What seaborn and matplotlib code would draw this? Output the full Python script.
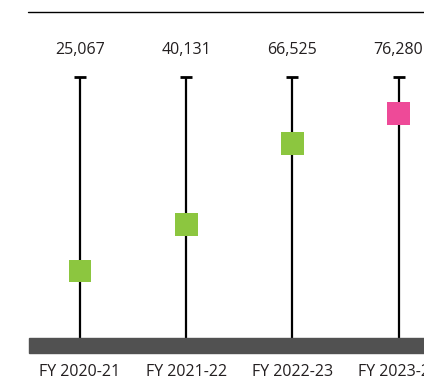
import matplotlib
matplotlib.use("Agg")
import matplotlib.pyplot as plt
import matplotlib.transforms as mtransforms
from matplotlib.patches import Rectangle
from matplotlib.lines import Line2D
import pandas as pd
import seaborn as sns

# Data
years = ["FY 2020-21", "FY 2021-22", "FY 2022-23", "FY 2023-24"]
values = [25067, 40131, 66525, 76280]
value_labels = ["25,067", "40,131", "66,525", "76,280"]
highlight = [False, False, False, True]
scale_top = 88300  # height of each stem

GREEN = "#8CC63F"
PINK = "#EE4A98"
BAR = "#515151"

sns.set_theme(style="white")
plt.rcParams["font.family"] = ["Open Sans", "DejaVu Sans"]

W, H = 424, 383
fig = plt.figure(figsize=(W / 100, H / 100), dpi=100)
ax = fig.add_axes([0, 0, 1, 1])
ax.set_axis_off()

# Axis ranges: category spacing ~106 px, value scale ~0.00307 px/unit
ax.set_xlim(-0.7535, 3.240)
ax.set_ylim(-11400, 113350)

df = pd.DataFrame({"year": years, "x": range(len(years)), "value": values,
                   "latest": highlight})

# Stems with top caps
ax.vlines(df["x"], 0, scale_top, color="black", lw=1.6, zorder=2)
ax.plot(df["x"], [scale_top] * len(df), ls="none", marker="_",
        ms=9, mew=2.0, color="black", zorder=2)

# Value markers
sns.scatterplot(data=df, x="x", y="value", hue="latest",
                palette={False: GREEN, True: PINK}, marker="s", s=272,
                linewidth=0, legend=False, ax=ax, zorder=3)

# Baseline bar and top rule (figure pixel coordinates)
fig.patches.append(Rectangle((29 / W, 1 - 353 / H), 1, 15 / H,
                             transform=fig.transFigure, color=BAR, zorder=4))
fig.lines.append(Line2D([28 / W, 1], [1 - 12 / H] * 2,
                        transform=fig.transFigure, color="black", lw=1.0))

trans = mtransforms.blended_transform_factory(ax.transData, fig.transFigure)
for i, (yr, lab) in enumerate(zip(years, value_labels)):
    ax.text(i, 1 - 50 / H, lab, transform=trans, ha="center", va="center",
            fontsize=11.5, color="#231F20")
    ax.text(i, 1 - 372 / H, yr, transform=trans, ha="center", va="center",
            fontsize=11.5, color="#231F20")

fig.savefig("out.png", dpi=100)
